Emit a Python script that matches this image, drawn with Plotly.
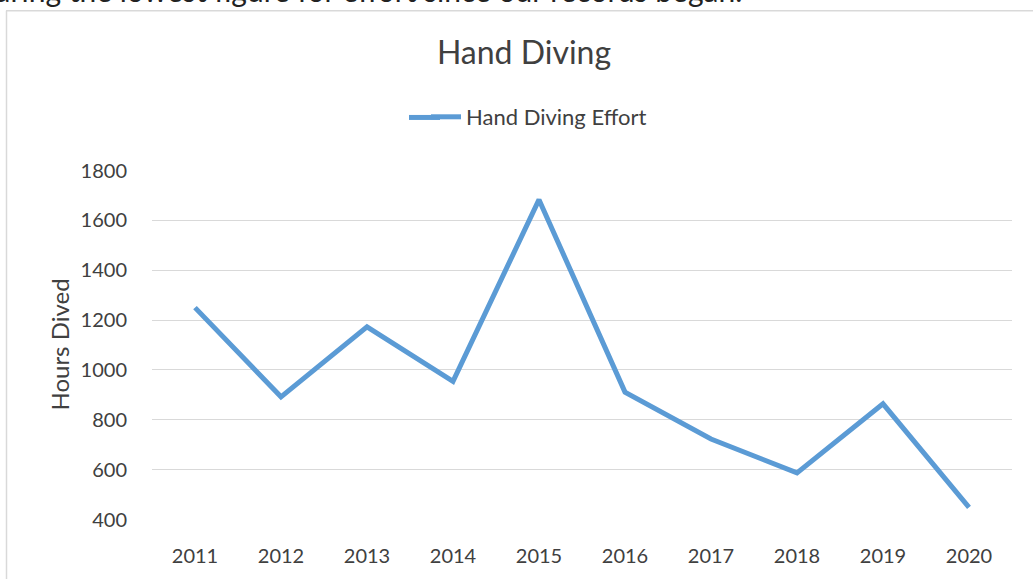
import plotly.graph_objects as go

# Annual hand diving effort
years = ["2011", "2012", "2013", "2014", "2015", "2016", "2017", "2018", "2019", "2020"]
hours_dived = [1250, 892, 1173, 954, 1683, 911, 723, 587, 864, 449]
y_ticks = [400, 600, 800, 1000, 1200, 1400, 1600, 1800]

W, H = 1033, 579
L, R, T, B = 152, 21, 170, 56
pw, ph = W - L - R, H - T - B
LINE_COLOR = "#5B9BD5"


def px(x):
    return (x - L) / pw


def py(y):
    return (H - B - y) / ph


font = "Lato, 'Open Sans', sans-serif"
txt = "#404040"

fig = go.Figure()
fig.add_trace(go.Scatter(
    x=years, y=hours_dived, mode="lines", name="Hand Diving Effort",
    line=dict(color=LINE_COLOR, width=5, shape="linear"),
))

fig.update_layout(
    width=W, height=H,
    margin=dict(l=L, r=R, t=T, b=B),
    paper_bgcolor="white", plot_bgcolor="white",
    font=dict(family=font, color=txt),
    title=dict(text="Hand Diving", x=524 / W, xanchor="center", xref="container",
               y=1 - 53 / H, yanchor="middle",
               font=dict(size=32, color=txt, family=font)),
    showlegend=True,
    legend=dict(orientation="h", x=426 / W, xanchor="left", xref="container",
                y=1 - 117 / H, yanchor="middle", yref="container",
                font=dict(size=22, color=txt), bgcolor="rgba(0,0,0,0)"),
    xaxis=dict(type="category", range=[-0.5, 9.5], showgrid=False,
               showline=False, zeroline=False,
               ticks="outside", ticklen=18, tickcolor="rgba(0,0,0,0)",
               tickfont=dict(size=20, color=txt)),
    yaxis=dict(range=[398, 1802], tickvals=y_ticks,
               showgrid=True, gridcolor="#d9d9d9", gridwidth=1.3,
               zeroline=False, showline=False,
               ticks="outside", ticklen=20, tickcolor="rgba(0,0,0,0)",
               tickfont=dict(size=20, color=txt)),
    annotations=[
        dict(text="Hours Dived", textangle=-90, xref="paper", yref="paper",
             x=px(60), y=py(346), xanchor="center", yanchor="middle",
             showarrow=False, font=dict(size=24, color=txt)),
        dict(text="during the lowest figure for effort since our records began.",
             xref="paper", yref="paper", x=px(744), y=py(9),
             xanchor="right", yanchor="bottom", showarrow=False,
             font=dict(size=30, color="#222222")),
    ],
    shapes=[
        # chart frame (top and left edges)
        dict(type="line", xref="paper", yref="paper",
             x0=px(6), x1=px(1040), y0=py(9.5), y1=py(9.5),
             line=dict(color="#d9d9d9", width=1.5)),
        dict(type="line", xref="paper", yref="paper",
             x0=px(6.5), x1=px(6.5), y0=py(9.5), y1=py(590),
             line=dict(color="#d9d9d9", width=1.5)),
        # longer legend key stroke
        dict(type="line", xref="paper", yref="paper",
             x0=px(409), x1=px(440), y0=py(117), y1=py(117),
             line=dict(color=LINE_COLOR, width=5)),
    ],
)

fig.write_html("out.html")
